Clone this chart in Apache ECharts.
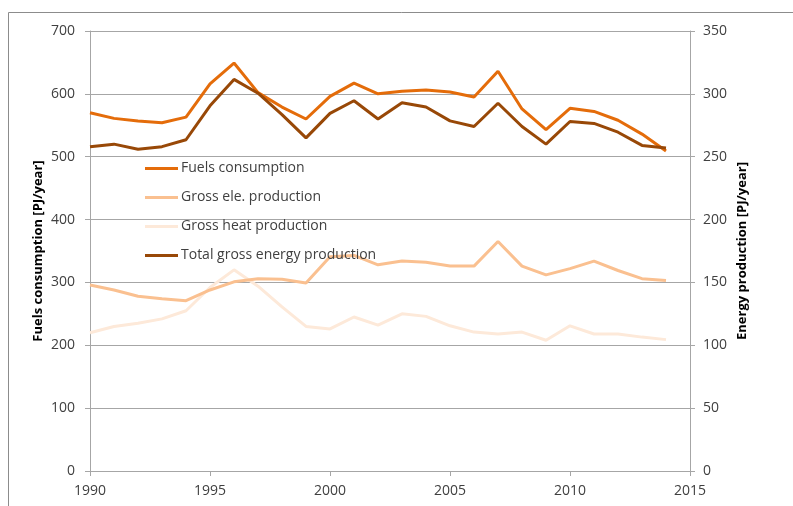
<!DOCTYPE html>
<html>
<head>
<meta charset="utf-8">
<script src="https://cdn.jsdelivr.net/npm/echarts@6/dist/echarts.min.js"></script>
<style>
  html, body { margin: 0; padding: 0; background: #fff; }
  #container { width: 793px; height: 506px; }
</style>
</head>
<body>
<div id="container"></div>
<script>
var years = [1990, 1991, 1992, 1993, 1994, 1995, 1996, 1997, 1998, 1999, 2000, 2001, 2002,
  2003, 2004, 2005, 2006, 2007, 2008, 2009, 2010, 2011, 2012, 2013, 2014];

// left axis, PJ/year
var fuels = [570, 561, 557, 554, 563, 616, 649, 602, 579, 560, 596, 617, 600,
  604, 606, 603, 595, 636, 576, 543, 577, 572, 558, 536, 509];

// right axis, PJ/year
var grossEle = [148, 144, 139, 137, 135.5, 144, 150.5, 153, 152.5, 149.5, 170.5, 171.5, 164,
  167, 166, 163, 163, 182.5, 163, 156, 161, 167, 159.5, 153, 151.5];
var grossHeat = [110, 115, 117.5, 121, 127.5, 146, 160, 147, 130.5, 115, 113, 122.5, 116,
  125, 123, 115.5, 110.5, 109, 110.5, 104, 115.5, 109, 109, 106.5, 104.5];
var totalGross = [258, 260, 256, 258, 263.5, 290.5, 311.5, 300.5, 283.5, 265, 284.5, 294.5, 280,
  293, 289.5, 278.5, 274, 292.5, 274, 260, 278, 276.5, 269.5, 259, 257];

var seriesNames = ['Fuels consumption', 'Gross ele. production', 'Gross heat production', 'Total gross energy production'];
var colors = ['#E46C0A', '#FAC090', '#FDE9D9', '#984807'];

function pairs(arr) {
  return years.map((y, i) => [y, arr[i]]);
}

var dom = document.getElementById('container');
var myChart = echarts.init(dom);

var font = 'Open Sans';
var gridColor = '#a6a6a6';

var option = {
  animation: false,
  textStyle: { fontFamily: font },
  graphic: [{
    type: 'rect',
    shape: { x: 8.5, y: 12.5, width: 800, height: 520 },
    style: { fill: 'none', stroke: '#8c8c8c', lineWidth: 1 }
  }],
  grid: { left: 90, right: 103, top: 31, bottom: 35 },
  legend: {
    data: seriesNames,
    orient: 'vertical',
    left: 140,
    top: 155,
    icon: 'rect',
    itemWidth: 33,
    itemHeight: 3,
    itemGap: 12,
    textStyle: { color: '#404040', fontSize: 14, lineHeight: 17, fontFamily: font, padding: [0, 0, 0, -2] }
  },
  xAxis: {
    type: 'value',
    min: 1990,
    max: 2015,
    interval: 5,
    axisLine: { lineStyle: { color: gridColor } },
    axisTick: { length: 5, lineStyle: { color: gridColor } },
    axisLabel: { color: '#404040', fontSize: 14, margin: 13, fontFamily: font, formatter: v => String(v) },
    splitLine: { show: false }
  },
  yAxis: [{
    type: 'value',
    min: 0,
    max: 700,
    interval: 100,
    name: 'Fuels consumption [PJ/year]',
    nameLocation: 'middle',
    nameGap: 45,
    nameMoveOverlap: false,
    nameTextStyle: { color: '#000', fontWeight: 'bold', fontSize: 13, fontFamily: font },
    axisLine: { show: true, lineStyle: { color: gridColor } },
    axisTick: { show: true, length: 5, lineStyle: { color: gridColor } },
    axisLabel: { color: '#404040', fontSize: 14, margin: 15, fontFamily: font },
    splitLine: { show: true, lineStyle: { color: gridColor } }
  }, {
    type: 'value',
    min: 0,
    max: 350,
    interval: 50,
    name: 'Energy production [PJ/year]',
    nameLocation: 'middle',
    nameGap: 46,
    nameMoveOverlap: false,
    nameRotate: 90,
    nameTextStyle: { color: '#000', fontWeight: 'bold', fontSize: 13, fontFamily: font },
    axisLine: { show: true, lineStyle: { color: gridColor } },
    axisTick: { show: true, length: 5, lineStyle: { color: gridColor } },
    axisLabel: { color: '#404040', fontSize: 14, margin: 13, fontFamily: font },
    splitLine: { show: false }
  }],
  series: [
    { name: seriesNames[0], data: pairs(fuels), yAxisIndex: 0 },
    { name: seriesNames[1], data: pairs(grossEle), yAxisIndex: 1 },
    { name: seriesNames[2], data: pairs(grossHeat), yAxisIndex: 1 },
    { name: seriesNames[3], data: pairs(totalGross), yAxisIndex: 1 }
  ].map((s, i) => ({
    name: s.name,
    type: 'line',
    yAxisIndex: s.yAxisIndex,
    data: s.data,
    symbol: 'none',
    color: colors[i],
    lineStyle: { width: 3, color: colors[i] },
    z: i === 2 ? 1 : 2
  }))
};

if (option && typeof option === 'object') {
  myChart.setOption(option);
}
</script>
</body>
</html>
